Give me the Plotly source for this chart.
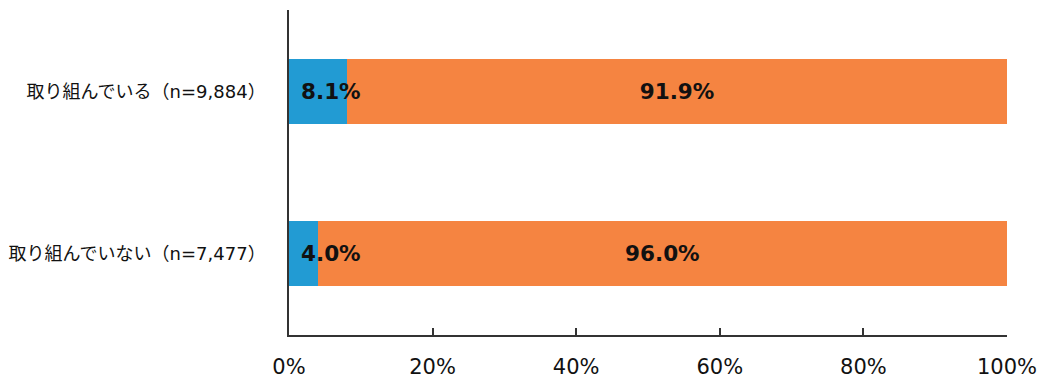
import plotly.graph_objects as go

categories = ["取り組んでいる（n=9,884）", "取り組んでいない（n=7,477）"]
yes_vals = [8.1, 4.0]
no_vals = [91.9, 96.0]
tick_vals = [0, 20, 40, 60, 80, 100]
tick_text = ["0%", "20%", "40%", "60%", "80%", "100%"]

BLUE = "#229BD3"
ORANGE = "#F58441"
AXIS = "#333333"

fig = go.Figure()
fig.add_trace(go.Bar(
    y=categories, x=yes_vals, orientation="h", width=0.4,
    marker=dict(color=BLUE, line=dict(width=0)), hoverinfo="skip",
))
fig.add_trace(go.Bar(
    y=categories, x=no_vals, orientation="h", width=0.4,
    marker=dict(color=ORANGE, line=dict(width=0)),
    texttemplate="<b>%{x:.1f}%</b>", textposition="inside",
    insidetextanchor="middle", constraintext="none",
    textfont=dict(family="DejaVu Sans", size=21.5, color="#111111"),
    hoverinfo="skip",
))

for c, v in zip(categories, yes_vals):
    fig.add_annotation(
        x=0, y=c, xref="x", yref="y", text="<b>%.1f%%</b>" % v,
        showarrow=False, xanchor="left", xshift=10,
        font=dict(family="DejaVu Sans", size=21.5, color="#111111"),
    )

fig.update_layout(
    barmode="stack",
    width=1047, height=378,
    margin=dict(l=289, r=40, t=10, b=43),
    plot_bgcolor="white", paper_bgcolor="white",
    showlegend=False,
    xaxis=dict(
        range=[0, 100], tickvals=tick_vals, ticktext=tick_text,
        ticks="inside", ticklen=7, tickcolor=AXIS, tickwidth=1.5,
        showline=True, linecolor=AXIS, linewidth=1.5,
        showgrid=False, zeroline=False, automargin=False,
        tickfont=dict(family="DejaVu Sans", size=21, color="#111111"),
        ticklabelstandoff=12,
    ),
    yaxis=dict(
        categoryorder="array", categoryarray=categories,
        range=[1.5, -0.5],
        showline=True, linecolor=AXIS, linewidth=1.5,
        showgrid=False, zeroline=False, ticks="", automargin=False,
        tickfont=dict(family="DejaVu Sans, Noto Sans CJK JP", size=18, color="#111111"),
        ticklabelstandoff=18,
    ),
)

fig.write_html("out.html", config={"displayModeBar": False},
               post_script="document.body.style.margin='0';")
